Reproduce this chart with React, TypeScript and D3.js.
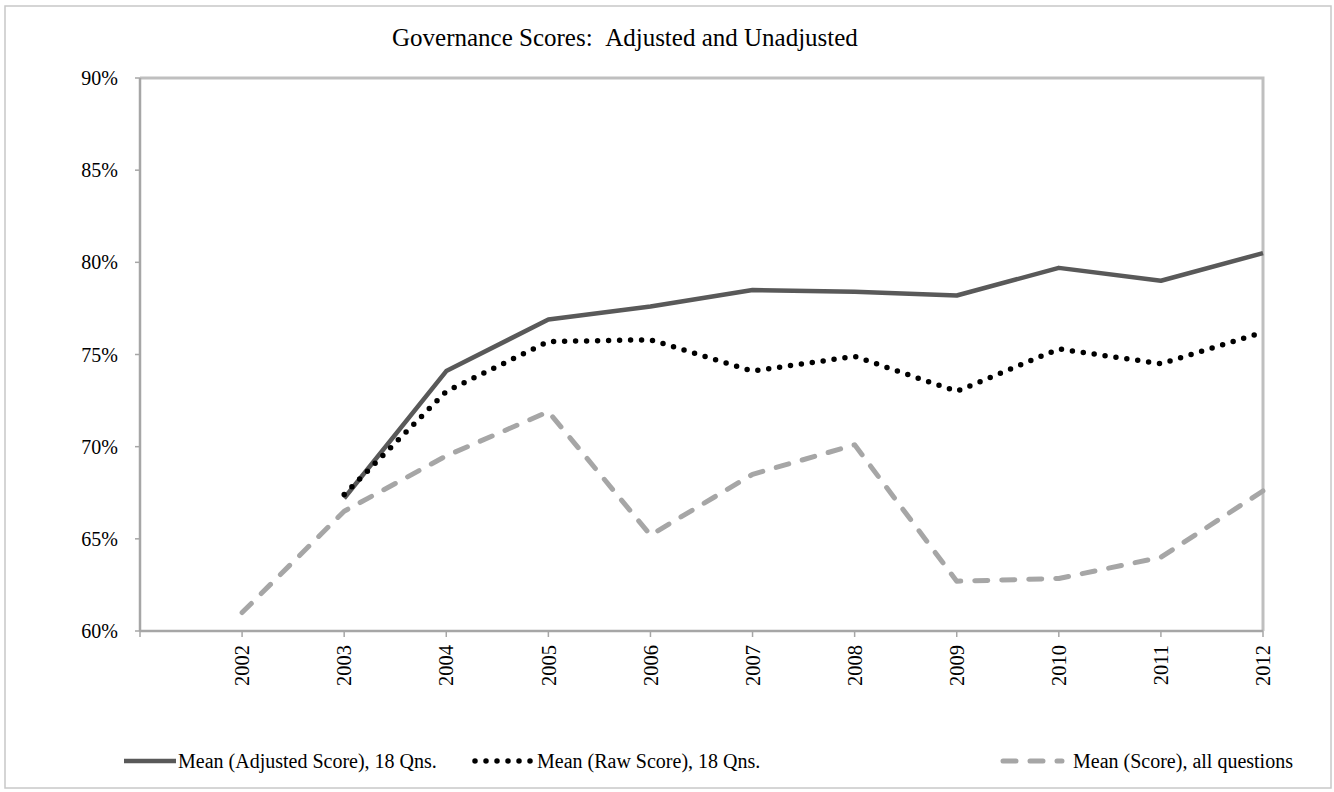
import React from "react";
import * as d3 from "d3";

// categories (first slot is the blank one Excel leaves at the axis origin)
const years = ["", "2002", "2003", "2004", "2005", "2006", "2007", "2008", "2009", "2010", "2011", "2012"];
const yTicks = [60, 65, 70, 75, 80, 85, 90];

// values in percent, null where the series has no point
const adjusted = [null, null, 67.2, 74.1, 76.9, 77.6, 78.5, 78.4, 78.2, 79.7, 79.0, 80.5];
const raw = [null, null, 67.4, 73.0, 75.7, 75.8, 74.1, 74.9, 73.0, 75.3, 74.5, 76.2];
const allQuestions = [null, 61.0, 66.5, 69.5, 71.9, 65.2, 68.5, 70.1, 62.7, 62.85, 64.0, 67.6];

const seriesNames = [
  "Mean (Adjusted Score), 18 Qns.",
  "Mean (Raw Score), 18 Qns.",
  "Mean (Score), all questions",
];

const FONT = "'Liberation Serif', 'Times New Roman', serif";

type Pt = { k: string; v: number | null };

export default function App() {
  const width = 1334;
  const height = 792;
  const plot = { left: 140, right: 1263, top: 78, bottom: 631 };

  const x = d3.scalePoint<string>().domain(years).range([plot.left, plot.right]).padding(0);
  const y = d3.scaleLinear().domain([60, 90]).range([plot.bottom, plot.top]);

  const line = d3
    .line<Pt>()
    .defined((d) => d.v !== null)
    .x((d) => x(d.k) as number)
    .y((d) => y(d.v as number));

  const toPts = (vals: (number | null)[]) => years.map((k, i) => ({ k, v: vals[i] }));

  const series = [
    { vals: adjusted, stroke: "#595959", width: 4.5, dash: undefined, cap: "butt" },
    { vals: raw, stroke: "#000000", width: 5.5, dash: "0 11", cap: "round" },
    { vals: allQuestions, stroke: "#A6A6A6", width: 5, dash: "13 14", cap: "round" },
  ];

  const legendY = 761;
  const legend = [
    { x0: 124, x1: 176, tx: 178 },
    { x0: 472, x1: 533, tx: 537 },
    { x0: 1000, x1: 1062, tx: 1073 },
  ];

  return (
    <svg
      width={width}
      height={height}
      style={{ position: "absolute", left: 0, top: 0, background: "#fff" }}
      fontFamily={FONT}
    >
      <rect x={5} y={6} width={1326} height={782} fill="#fff" stroke="#C8C8C8" strokeWidth={1.5} />

      <text x={392} y={46} fontSize={25} fill="#000">
        Governance Scores:{"\u00a0\u00a0"}Adjusted and Unadjusted
      </text>

      {/* plot area frame: top and right */}
      <path
        d={`M${plot.left},${plot.top}H${plot.right}V${plot.bottom}`}
        fill="none"
        stroke="#BFBFBF"
        strokeWidth={3}
      />

      {/* y axis */}
      <line x1={plot.left} x2={plot.left} y1={plot.top} y2={plot.bottom} stroke="#A6A6A6" strokeWidth={2.5} />
      {yTicks.map((t) => (
        <g key={t}>
          <line x1={plot.left - 5} x2={plot.left} y1={y(t)} y2={y(t)} stroke="#A6A6A6" strokeWidth={1.5} />
          <text x={118} y={y(t)} dy="0.35em" textAnchor="end" fontSize={20}>
            {t}%
          </text>
        </g>
      ))}

      {/* x axis */}
      <line x1={plot.left} x2={plot.right} y1={plot.bottom} y2={plot.bottom} stroke="#A6A6A6" strokeWidth={2.5} />
      {years.map((yr) => (
        <g key={yr || "blank"}>
          <line
            x1={x(yr)}
            x2={x(yr)}
            y1={plot.bottom}
            y2={plot.bottom + 6}
            stroke="#A6A6A6"
            strokeWidth={1.5}
          />
          {yr && (
            <text
              transform={`translate(${x(yr)},${plot.bottom + 14}) rotate(-90)`}
              textAnchor="end"
              dy="0.35em"
              fontSize={20.5}
            >
              {yr}
            </text>
          )}
        </g>
      ))}

      {/* series */}
      {series.map((s, i) => (
        <path
          key={i}
          d={line(toPts(s.vals)) || ""}
          fill="none"
          stroke={s.stroke}
          strokeWidth={s.width}
          strokeDasharray={s.dash}
          strokeLinecap={s.cap as any}
          strokeLinejoin="round"
        />
      ))}

      {/* legend */}
      {legend.map((l, i) => (
        <g key={i}>
          <line
            x1={l.x0 + (series[i].cap === "round" ? 3 : 0)}
            x2={l.x1}
            y1={legendY}
            y2={legendY}
            stroke={series[i].stroke}
            strokeWidth={series[i].width}
            strokeDasharray={series[i].dash}
            strokeLinecap={series[i].cap as any}
          />
          <text x={l.tx} y={legendY} dy="0.35em" fontSize={20}>
            {seriesNames[i]}
          </text>
        </g>
      ))}
    </svg>
  );
}
